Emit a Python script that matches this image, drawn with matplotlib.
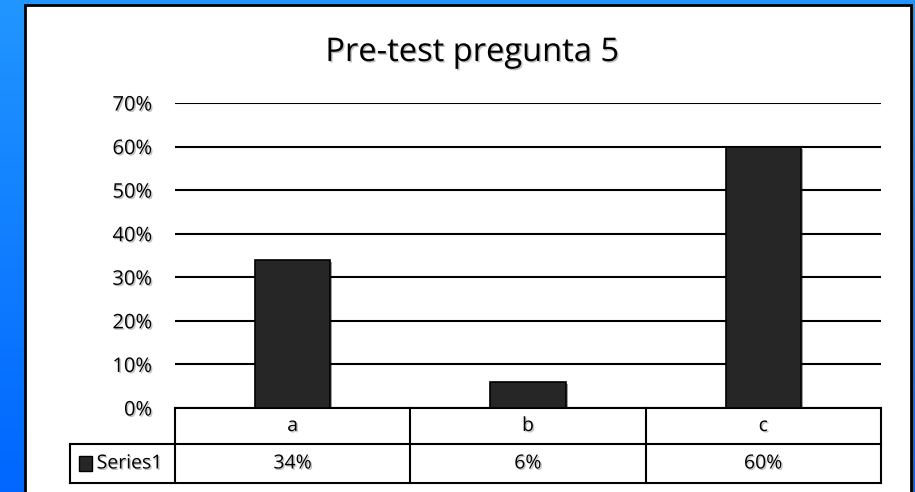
import numpy as np
import matplotlib
matplotlib.use("Agg")
import matplotlib.pyplot as plt
import matplotlib.patheffects as pe
from matplotlib.colors import LinearSegmentedColormap

plt.rcParams['font.family'] = ['Open Sans', 'DejaVu Sans']

# Datos
categories = ['a', 'b', 'c']
values = [0.34, 0.06, 0.60]
series_name = 'Series1'
value_labels = ['34%', '6%', '60%']
yticks = [0, 0.1, 0.2, 0.3, 0.4, 0.5, 0.6, 0.7]

W, H = 915, 492
fig = plt.figure(figsize=(W / 100, H / 100), dpi=100)

# Fondo azul con degradado
bg = fig.add_axes([0, 0, 1, 1])
grad = np.linspace(0, 1, 256).reshape(-1, 1)
cmap = LinearSegmentedColormap.from_list('bg', ['#2196ff', '#0066ff'])
bg.imshow(grad, aspect='auto', cmap=cmap, extent=[0, 1, 0, 1], origin='upper')
bg.set_xlim(0, 1)
bg.set_ylim(0, 1)
bg.axis('off')

# Panel blanco
bg.add_patch(plt.Rectangle((25 / W, -0.05), (911 - 25) / W, (492 - 5) / H + 0.05,
                           facecolor='white', edgecolor='black', linewidth=2, zorder=2))

txt_fx = [pe.withSimplePatchShadow(offset=(1, -1), alpha=0.25)]

# Titulo centrado en el panel
fig.text(472 / W, (H - 61) / H, 'Pre-test pregunta 5', ha='center', va='baseline',
         fontsize=23.5, path_effects=txt_fx)

# Ejes principales
ax = fig.add_axes([175 / W, (H - 408) / H, (881 - 175) / W, (408 - 103) / H])
ax.set_facecolor('none')
x = np.arange(len(categories))
shadow = [pe.SimplePatchShadow(offset=(1.5, -1.5), alpha=0.4), pe.Normal()]
bars = ax.bar(x, values, width=0.32, color='#262626', edgecolor='black',
              linewidth=1.2, zorder=3)
for b in bars:
    b.set_path_effects(shadow)
ax.set_xlim(-0.5, len(categories) - 0.5)
ax.set_ylim(0, 0.7)
ax.set_yticks(yticks)
ax.set_yticklabels([f'{int(round(t * 100))}%' for t in yticks])
ax.tick_params(axis='y', length=0, pad=16.5, labelsize=14.5)
ax.set_xticks([])
ax.grid(axis='y', color='black', linewidth=1.5, zorder=1)
ax.set_axisbelow(True)
for s in ['top', 'right', 'bottom', 'left']:
    ax.spines[s].set_visible(False)

for lbl in ax.get_yticklabels():
    lbl.set_path_effects(txt_fx)

# Tabla de datos bajo el eje
ah = 408 - 103
r1 = -(444 - 408) / ah
r2 = -(483 - 408) / ah
xl = (70 - 175) / (881 - 175)
tr = ax.get_xaxis_transform()
lk = dict(color='black', linewidth=1.5, clip_on=False, transform=ax.transAxes)
ax.plot([0, 1], [0, 0], **lk)
ax.plot([xl, 1], [r1, r1], **lk)
ax.plot([xl, 1], [r2, r2], **lk)
ax.plot([xl, xl], [r1, r2], **lk)
for i in range(len(categories) + 1):
    xf = i / len(categories)
    ax.plot([xf, xf], [0, r2], **lk)
for i, (c, v) in enumerate(zip(categories, value_labels)):
    ax.text(i, r1 / 2, c, transform=tr, ha='center', va='center', fontsize=14,
            path_effects=txt_fx)
    ax.text(i, (r1 + r2) / 2, v, transform=tr, ha='center', va='center', fontsize=14,
            path_effects=txt_fx)
ax.add_patch(plt.Rectangle((-0.136, (r1 + r2) / 2 - 0.024), 0.0184, 0.049,
                           transform=ax.transAxes, facecolor='#262626',
                           edgecolor='black', clip_on=False))
ax.text(-0.111, (r1 + r2) / 2, series_name, transform=ax.transAxes,
        ha='left', va='center', fontsize=14, path_effects=txt_fx)

fig.savefig('out.png', dpi=100)
